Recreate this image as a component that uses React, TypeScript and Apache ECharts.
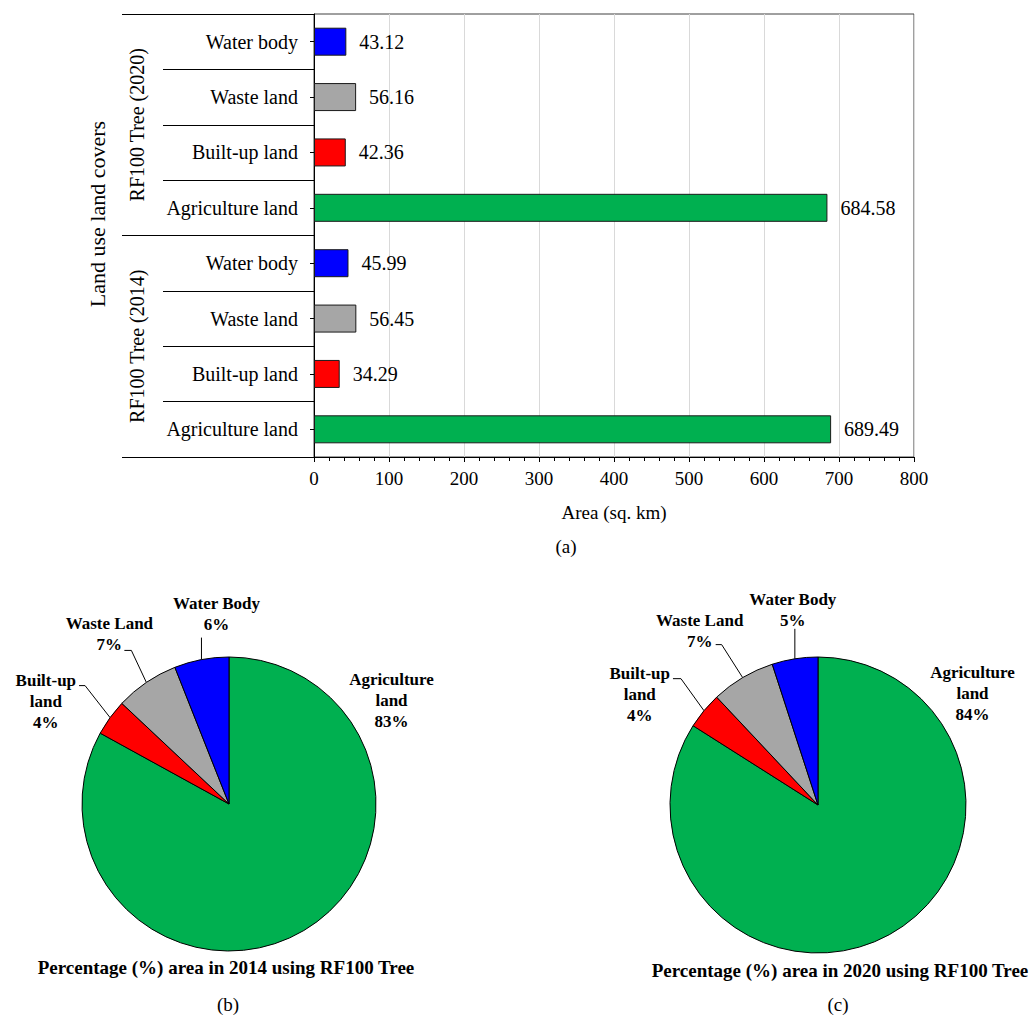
import React, { useEffect, useRef } from "react";
import * as echarts from "echarts";

// Land use / land cover classes, bottom to top within each classifier group
const landCovers = ["Agriculture land", "Built-up land", "Waste land", "Water body"];
const groups = ["RF100 Tree (2014)", "RF100 Tree (2020)"];

// Area in sq. km
const area2014 = [689.49, 34.29, 56.45, 45.99];
const area2020 = [684.58, 42.36, 56.16, 43.12];

// Percentage share of each class (pie charts)
const pieNames = ["Agriculture\nland", "Built-up\nland", "Waste Land", "Water Body"];
const share2014 = [83, 4, 7, 6];
const share2020 = [84, 4, 7, 5];

const coverColors = ["#00B050", "#FF0000", "#A6A6A6", "#0000FF"];

const areaMin = 0;
const areaMax = 800;
const areaStep = 100;

const SERIF = "'Liberation Serif', 'Times New Roman', serif";

type Placement = {
  kind: "box" | "line";
  dx: number;
  dy: number;
  va: "top" | "bottom";
  bend?: [number, number];
  tail?: number;
  rightEdge?: boolean;
};

// Where each pie label sits relative to its slice / leader line
const placements2014: Placement[] = [
  { kind: "box", dx: 15, dy: 12, va: "top" },
  { kind: "line", bend: [-25, -32], tail: 6, dx: 3, dy: -16, va: "top", rightEdge: true },
  { kind: "line", bend: [-15, -32], tail: 7, dx: -15, dy: 5, va: "bottom" },
  { kind: "line", bend: [0, -22], tail: 0, dx: 15, dy: -3, va: "bottom" },
];
const placements2020: Placement[] = [
  { kind: "box", dx: 6, dy: 5, va: "top" },
  { kind: "line", bend: [-23, -32], tail: 8, dx: 3, dy: -16, va: "top", rightEdge: true },
  { kind: "line", bend: [-21, -33], tail: 6, dx: -16, dy: 7, va: "bottom" },
  { kind: "line", bend: [0, -30], tail: 0, dx: -2, dy: 2, va: "bottom" },
];

function makeLabelLayout(placements: Placement[]) {
  return (p: any) => {
    const pl = placements[p.dataIndex];
    const w = p.labelRect ? p.labelRect.width : 0;
    if (pl.kind === "box") {
      return {
        x: p.rect.x + p.rect.width + pl.dx,
        y: p.rect.y + pl.dy,
        align: "center",
        verticalAlign: "top",
      };
    }
    const pts = p.labelLinePoints;
    if (!pts || !pts.length) return {};
    const p0 = pts[0];
    const bend = pl.bend || [0, 0];
    const p1 = [p0[0] + bend[0], p0[1] + bend[1]];
    const p2 = [p1[0] - (pl.tail || 0), p1[1]];
    const x = pl.rightEdge ? p2[0] - pl.dx - w / 2 : p2[0] + pl.dx;
    return {
      x,
      y: p2[1] + pl.dy,
      align: "center",
      verticalAlign: pl.va,
      labelLinePoints: [p0, p1, p2],
    };
  };
}

function pieSeries(values: number[], center: [number, number], radius: number, placements: Placement[]) {
  return {
    type: "pie",
    center,
    radius,
    startAngle: 90,
    clockwise: true,
    avoidLabelOverlap: false,
    itemStyle: { borderColor: "#000", borderWidth: 1 },
    label: {
      show: true,
      position: "outside",
      formatter: "{b}\n{c}%",
      fontFamily: SERIF,
      fontWeight: "bold",
      fontSize: 17,
      lineHeight: 21,
      color: "#000",
    },
    labelLine: {
      show: true,
      length: 30,
      length2: 6,
      lineStyle: { color: "#000", width: 1 },
    },
    labelLayout: makeLabelLayout(placements),
    emphasis: { disabled: true },
    data: values.map((v, i) => ({
      name: pieNames[i],
      value: v,
      itemStyle: { color: coverColors[i] },
      labelLine: i === 0 ? { show: false } : undefined,
    })),
  };
}

export default function App() {
  const ref = useRef<HTMLDivElement>(null);

  useEffect(() => {
    if (!ref.current) return;
    const chart = echarts.init(ref.current, undefined, { renderer: "svg" });

    const categories = [...landCovers, ...landCovers];
    const areas = [...area2014, ...area2020];
    const barData = areas.map((v, i) => ({
      value: v,
      itemStyle: { color: coverColors[i % coverColors.length] },
    }));

    const text = (x: number, y: number, t: string, bold = false, size = 19, rotation = 0) => ({
      type: "text",
      x,
      y,
      rotation,
      style: {
        text: t,
        fontFamily: SERIF,
        fontSize: size,
        fontWeight: bold ? "bold" : "normal",
        fill: "#000",
        textAlign: "center",
        textVerticalAlign: "middle",
      },
    });

    chart.setOption({
      animation: false,
      backgroundColor: "#fff",
      grid: {
        left: 314,
        right: 121,
        top: 14,
        bottom: 563,
        show: true,
        borderColor: "#404040",
        borderWidth: 1,
      },
      xAxis: {
        type: "value",
        min: areaMin,
        max: areaMax,
        interval: areaStep,
        name: "Area (sq. km)",
        nameLocation: "middle",
        nameGap: 46,
        nameTextStyle: { fontFamily: SERIF, fontSize: 19, color: "#000" },
        axisLine: { show: true, lineStyle: { color: "#000", width: 1 } },
        axisTick: { show: true, length: 5, lineStyle: { color: "#000" } },
        minorTick: { show: true, splitNumber: 5, length: 4, lineStyle: { color: "#000" } },
        axisLabel: { fontFamily: SERIF, fontSize: 19, color: "#000", margin: 12 },
        splitLine: { show: true, lineStyle: { color: "#d9d9d9", width: 1 } },
      },
      yAxis: [
        {
          type: "category",
          data: categories,
          position: "left",
          axisLine: { show: true, lineStyle: { color: "#000", width: 1 } },
          axisTick: { show: true, alignWithLabel: true, length: 4, lineStyle: { color: "#000" } },
          axisLabel: { interval: 0, fontFamily: SERIF, fontSize: 20, color: "#000", margin: 16 },
          splitLine: { show: false },
        },
        {
          // separators between land cover rows
          type: "category",
          data: categories,
          position: "left",
          axisLine: { show: false },
          axisTick: { show: true, alignWithLabel: false, interval: 0, length: 151, lineStyle: { color: "#000" } },
          axisLabel: { show: false },
          splitLine: { show: false },
        },
        {
          // classifier groups
          type: "category",
          data: groups,
          position: "left",
          axisLine: { show: false },
          axisTick: { show: true, alignWithLabel: false, interval: 0, length: 192, lineStyle: { color: "#000" } },
          axisLabel: { interval: 0, rotate: 90, fontFamily: SERIF, fontSize: 20, color: "#000", margin: 167 },
          splitLine: { show: false },
        },
      ],
      series: [
        {
          type: "bar",
          xAxisIndex: 0,
          yAxisIndex: 0,
          barWidth: 28,
          data: barData,
          itemStyle: { borderColor: "#1a1a1a", borderWidth: 1 },
          label: {
            show: true,
            position: "right",
            distance: 13,
            fontFamily: SERIF,
            fontSize: 20,
            color: "#000",
            formatter: (p: any) => Number(p.value).toFixed(2),
          },
          emphasis: { disabled: true },
        },
        pieSeries(share2014, [229, 804], 147, placements2014),
        pieSeries(share2020, [818, 805], 148, placements2020),
      ],
      graphic: [
        text(97, 214, "Land use land covers", false, 22, Math.PI / 2),
        text(566, 546, "(a)"),
        text(226, 967, "Percentage (%) area in 2014 using RF100 Tree", true, 19),
        text(840, 970, "Percentage (%) area in 2020 using RF100 Tree", true, 19),
        text(228, 1004, "(b)"),
        text(838, 1004, "(c)"),
      ],
    });

    return () => chart.dispose();
  }, []);

  return (
    <div
      ref={ref}
      style={{ position: "fixed", left: 0, top: 0, width: 1035, height: 1020, background: "#fff" }}
    />
  );
}
